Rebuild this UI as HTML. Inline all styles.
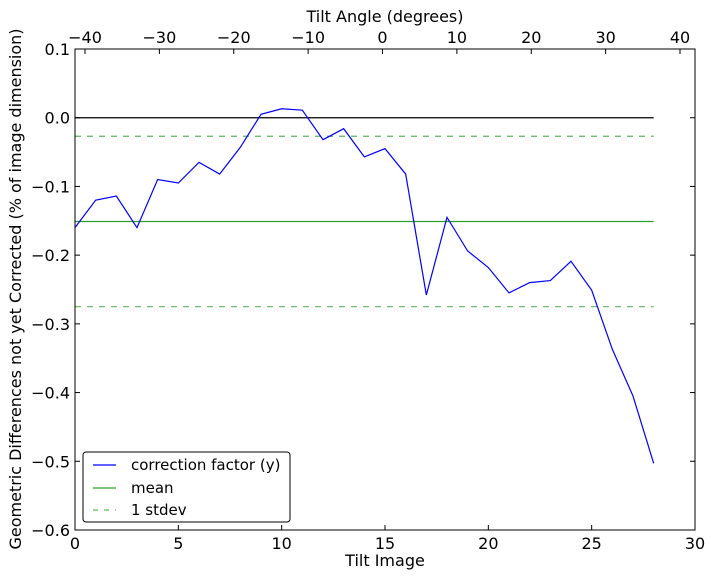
<!DOCTYPE html>
<html><head><meta charset="utf-8"><style>
body{margin:0;background:#fff;}
svg text{font-family:"DejaVu Sans","Liberation Sans",sans-serif;}
</style></head><body>
<svg id="s" width="714" height="579" xmlns="http://www.w3.org/2000/svg">
<rect width="714" height="579" fill="#fff"/>
<g id="g"></g>
</svg>
<script>
const L=75,R=695,T=49,B=530;
const X=v=>L+v*(R-L)/30, Y=v=>T+(0.1-v)*(B-T)/0.7, XT=d=>382.5+d*7.4375;
const d=[-0.16,-0.12,-0.114,-0.16,-0.09,-0.095,-0.065,-0.082,-0.043,0.005,0.013,0.011,-0.032,-0.016,-0.057,-0.045,-0.082,-0.258,-0.145,-0.194,-0.218,-0.255,-0.24,-0.237,-0.209,-0.251,-0.337,-0.405,-0.503];
let h='';
h+=`<line x1="${X(0)}" x2="${X(28)}" y1="${Y(0)}" y2="${Y(0)}" stroke="#000" stroke-width="1.2"/>`;
h+=`<line x1="${X(0)}" x2="${X(28)}" y1="${Y(-0.151)}" y2="${Y(-0.151)}" stroke="#2ca02c" stroke-width="1.2"/>`;
for(const v of [-0.027,-0.275])h+=`<line x1="${X(0)}" x2="${X(28)}" y1="${Y(v)}" y2="${Y(v)}" stroke="#5fb45f" stroke-width="1.2" stroke-dasharray="6,6"/>`;
h+=`<polyline fill="none" stroke="#0000ff" stroke-width="1.2" points="${d.map((v,i)=>X(i)+','+Y(v)).join(' ')}"/>`;
h+=`<rect x="${L}" y="${T}" width="${R-L}" height="${B-T}" fill="none" stroke="#000" stroke-width="1"/>`;
for(let i=0;i<=30;i+=5){const x=X(i);h+=`<line x1="${x}" x2="${x}" y1="${B}" y2="${B-5}" stroke="#000"/><text x="${x}" y="${B+19}" font-size="16" text-anchor="middle">${i}</text>`;}
for(let k=0;k<=7;k++){const v=0.1-k*0.1,y=Y(v);const s=(v>0.0001?'0.1':(Math.abs(v)<0.0001?'0.0':'\u2212'+Math.abs(v).toFixed(1)));
h+=`<line x1="${L}" x2="${L+5}" y1="${y}" y2="${y}" stroke="#000"/><line x1="${R}" x2="${R-5}" y1="${y}" y2="${y}" stroke="#000"/><text x="${L-5}" y="${y+6}" font-size="16" text-anchor="end">${s}</text>`;}
for(let dd=-40;dd<=40;dd+=10){const x=XT(dd);h+=`<line x1="${x}" x2="${x}" y1="${T}" y2="${T+5}" stroke="#000"/><text x="${x}" y="${T-6}" font-size="16" text-anchor="middle">${dd<0?'\u2212'+(-dd):dd}</text>`;}
h+=`<text x="385" y="566" font-size="16" text-anchor="middle">Tilt Image</text>`;
h+=`<text x="385" y="22" font-size="16" text-anchor="middle">Tilt Angle (degrees)</text>`;
h+=`<text transform="translate(21,289) rotate(-90)" font-size="16" text-anchor="middle">Geometric Differences not yet Corrected (% of image dimension)</text>`;
h+=`<rect x="83" y="452" width="207" height="70" rx="3" fill="#fff" stroke="#000"/>`;
const lg=[['#0000ff','','correction factor (y)',465],['#2ca02c','','mean',488],['#5fb45f','6,6','1 stdev',510]];
for(const [c,da,t,y] of lg){h+=`<line x1="93" x2="116" y1="${y}" y2="${y}" stroke="${c}" stroke-width="1.2" ${da?'stroke-dasharray="5,6"':''}/><text x="131" y="${y+5}" font-size="15">${t}</text>`;}
document.getElementById('g').innerHTML=h;
</script>
</body></html>
